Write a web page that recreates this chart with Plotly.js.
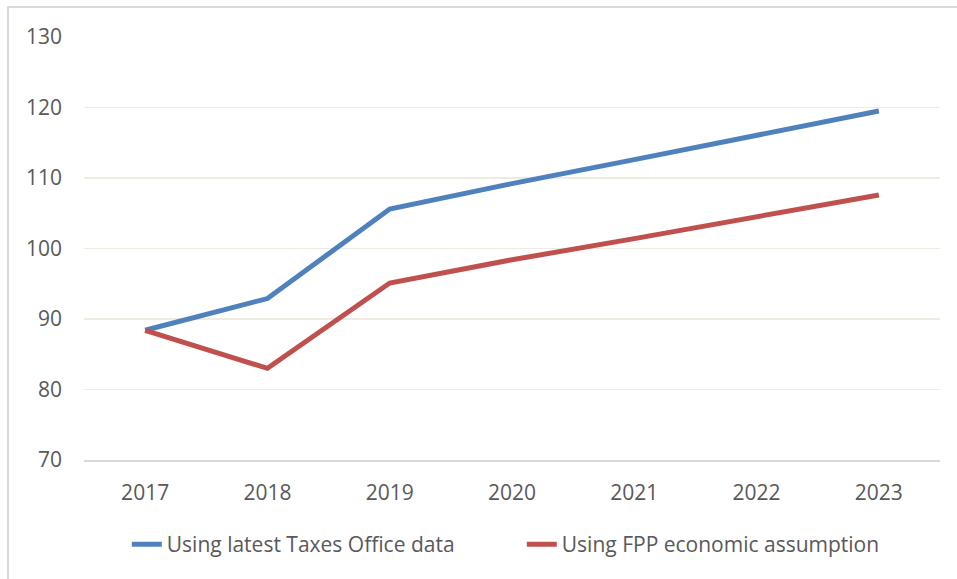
<!DOCTYPE html>
<html>
<head>
<meta charset="utf-8">
<script src="https://cdn.plot.ly/plotly-3.0.1.min.js"></script>
<style>
  html, body { margin: 0; padding: 0; background: #fff; }
  #wrap { position: relative; width: 957px; height: 579px; overflow: hidden; }
  #chart { width: 957px; height: 579px; }
  #frame { position: absolute; left: 7px; top: 6px; width: 980px; height: 600px;
           border: 2px solid #d9d9d9; box-sizing: border-box; pointer-events: none; }
</style>
</head>
<body>
<div id="wrap">
  <div id="chart"></div>
  <div id="frame"></div>
</div>
<script>
const years = ['2017', '2018', '2019', '2020', '2021', '2022', '2023'];
const taxesOffice = [88.4, 92.9, 105.6, 109.2, 112.6, 116.0, 119.5];
const fppAssumption = [88.4, 83.0, 95.1, 98.4, 101.4, 104.5, 107.6];
const seriesNames = ['Using latest Taxes Office data', 'Using FPP economic assumption'];
const yTicks = [70, 80, 90, 100, 110, 120, 130];

const font = { family: 'Open Sans, Noto Sans, sans-serif', size: 21, color: '#595959' };

const traces = [
  { x: years, y: taxesOffice, name: seriesNames[0], type: 'scatter', mode: 'lines',
    line: { color: '#4f81bd', width: 5 } },
  { x: years, y: fppAssumption, name: seriesNames[1], type: 'scatter', mode: 'lines',
    line: { color: '#c0504d', width: 5 } }
];

const layout = {
  width: 957, height: 579,
  margin: { l: 84, r: 17, t: 37, b: 119 },
  paper_bgcolor: '#ffffff', plot_bgcolor: '#ffffff',
  font: font,
  showlegend: true,
  legend: { orientation: 'h', x: 0.050, xanchor: 'left', y: -0.2, yanchor: 'middle',
            font: font, traceorder: 'normal', entrywidth: 350, entrywidthmode: 'pixels' },
  xaxis: { type: 'category', range: [-0.5, 6.5], showgrid: false, zeroline: false,
           showline: true, linecolor: '#d9d9d9', linewidth: 1.5, ticks: '',
           ticklabelstandoff: 13, tickfont: font, fixedrange: true },
  yaxis: { range: [70, 130], tickvals: yTicks, ticktext: yTicks.map(String),
           showgrid: true, gridcolor: '#eeece1', gridwidth: 1.5, zeroline: false,
           showline: false, ticks: '', ticklabelstandoff: 21, tickfont: font, fixedrange: true }
};

Plotly.newPlot('chart', traces, layout, { displayModeBar: false, staticPlot: true });
</script>
</body>
</html>
